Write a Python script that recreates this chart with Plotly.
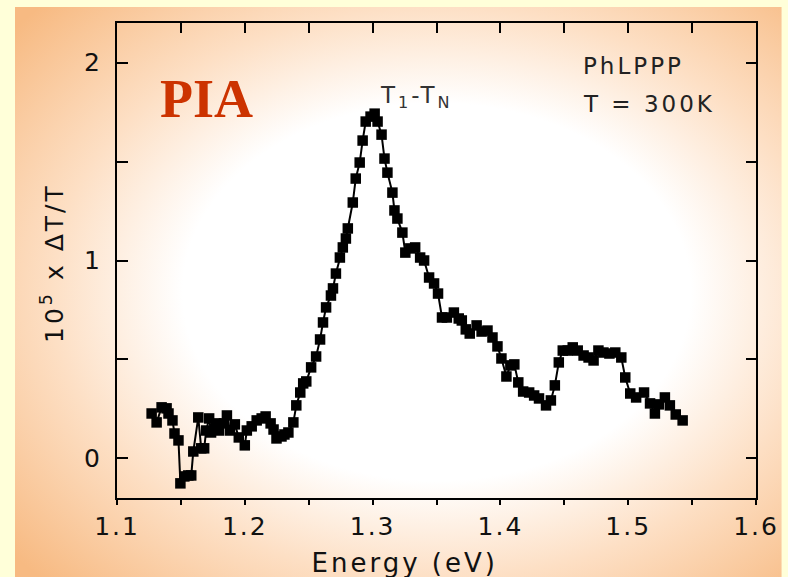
import base64
import plotly.graph_objects as go

# ---------------- data ----------------
energy_ev = [
    1.1271, 1.1310, 1.1349, 1.1388, 1.1403, 1.1434, 1.1450, 1.1481, 1.1496, 1.1527,
    1.1558, 1.1581, 1.1597, 1.1636, 1.1659, 1.1682, 1.1698, 1.1721, 1.1736, 1.1775,
    1.1798, 1.1837, 1.1860, 1.1884, 1.1922, 1.1953, 1.2000, 1.2016, 1.2054, 1.2093,
    1.2132, 1.2163, 1.2202, 1.2225, 1.2248, 1.2287, 1.2310, 1.2341, 1.2380, 1.2403,
    1.2434, 1.2457, 1.2481, 1.2519, 1.2558, 1.2589, 1.2612, 1.2636, 1.2674, 1.2690,
    1.2713, 1.2744, 1.2767, 1.2791, 1.2806, 1.2845, 1.2868, 1.2899, 1.2922, 1.2946,
    1.2984, 1.3016, 1.3039, 1.3070, 1.3093, 1.3116, 1.3155, 1.3171, 1.3194, 1.3233,
    1.3256, 1.3295, 1.3333, 1.3372, 1.3403, 1.3442, 1.3481, 1.3512, 1.3543, 1.3581,
    1.3636, 1.3674, 1.3698, 1.3729, 1.3760, 1.3814, 1.3853, 1.3899, 1.3938, 1.3977,
    1.4008, 1.4047, 1.4078, 1.4109, 1.4140, 1.4178, 1.4225, 1.4264, 1.4302, 1.4357,
    1.4395, 1.4426, 1.4457, 1.4488, 1.4527, 1.4566, 1.4605, 1.4651, 1.4690, 1.4729,
    1.4767, 1.4806, 1.4853, 1.4899, 1.4946, 1.4977, 1.5016, 1.5062, 1.5124, 1.5171,
    1.5209, 1.5240, 1.5287, 1.5326, 1.5372, 1.5426,
]
delta_t_over_t = [
    0.227, 0.182, 0.258, 0.253, 0.227, 0.192, 0.126, 0.091, -0.126, -0.091,
    -0.086, -0.086, 0.035, 0.207, 0.051, 0.051, 0.141, 0.202, 0.131, 0.177,
    0.141, 0.177, 0.217, 0.141, 0.172, 0.106, 0.066, 0.141, 0.162, 0.192,
    0.202, 0.212, 0.177, 0.146, 0.101, 0.111, 0.121, 0.131, 0.182, 0.268,
    0.333, 0.379, 0.389, 0.460, 0.515, 0.601, 0.687, 0.763, 0.823, 0.859,
    0.934, 1.015, 1.066, 1.111, 1.162, 1.293, 1.414, 1.495, 1.606, 1.702,
    1.727, 1.742, 1.702, 1.636, 1.515, 1.444, 1.343, 1.253, 1.212, 1.141,
    1.040, 1.061, 1.066, 1.015, 1.000, 0.914, 0.884, 0.833, 0.712, 0.712,
    0.737, 0.707, 0.697, 0.652, 0.631, 0.672, 0.641, 0.646, 0.611, 0.566,
    0.505, 0.414, 0.470, 0.475, 0.384, 0.338, 0.333, 0.318, 0.303, 0.268,
    0.293, 0.369, 0.485, 0.545, 0.545, 0.561, 0.545, 0.520, 0.510, 0.495,
    0.545, 0.535, 0.530, 0.535, 0.510, 0.409, 0.328, 0.308, 0.333, 0.278,
    0.227, 0.273, 0.308, 0.268, 0.222, 0.192,
]

x_tick_vals = [1.1, 1.2, 1.3, 1.4, 1.5, 1.6]
x_tick_text = ["1.1", "1.2", "1.3", "1.4", "1.5", "1.6"]
y_tick_vals = [0, 1, 2]
y_tick_text = ["0", "1", "2"]
x_minor_step = 0.05
y_minor_step = 0.5

x_range = [1.1, 1.6]
y_range = [-0.2, 2.2]

# ---------------- styling ----------------
FONT = "DejaVu Sans"
INK = "#111111"

# radial background (white centre fading to peach/orange corners)
svg = (
    '<svg xmlns="http://www.w3.org/2000/svg" width="774" height="570" '
    'viewBox="0 0 774 570" preserveAspectRatio="none">'
    '<defs><radialGradient id="g" cx="0.55" cy="0.5" r="0.72" fx="0.55" fy="0.5">'
    '<stop offset="0" stop-color="#ffffff"/>'
    '<stop offset="0.46" stop-color="#ffffff"/>'
    '<stop offset="0.70" stop-color="#fddfc4"/>'
    '<stop offset="1" stop-color="#f7ba82"/>'
    '</radialGradient></defs>'
    '<rect x="0" y="0" width="774" height="570" fill="url(#g)"/></svg>'
)
bg_src = "data:image/svg+xml;base64," + base64.b64encode(svg.encode()).decode()

fig = go.Figure()
fig.add_trace(go.Scatter(
    x=energy_ev, y=delta_t_over_t, mode="lines+markers",
    line=dict(color="black", width=2),
    marker=dict(symbol="square", size=10.5, color="black"),
    showlegend=False, hoverinfo="x+y",
))
# invisible companion trace so the mirrored (top/right) axes are drawn
fig.add_trace(go.Scatter(
    x=energy_ev, y=delta_t_over_t, mode="markers", xaxis="x2", yaxis="y2",
    marker=dict(opacity=0), showlegend=False, hoverinfo="skip",
))

axis_common = dict(showline=True, linecolor="black", linewidth=2, showgrid=False,
                   zeroline=False, tickcolor="black", tickwidth=2)


def minor(direction, length, step, start):
    return dict(ticks=direction, ticklen=length, tickwidth=2, tickcolor="black",
                dtick=step, tick0=start, showgrid=False)


fig.update_layout(
    width=788, height=577,
    margin=dict(l=117, r=26, t=23, b=79),
    paper_bgcolor="#ffffd9",
    plot_bgcolor="rgba(0,0,0,0)",
    font=dict(family=FONT, color=INK),
    xaxis=dict(range=x_range, tickmode="array", tickvals=x_tick_vals, ticktext=x_tick_text,
               ticks="outside", ticklen=5, tickfont=dict(family=FONT, size=25, color=INK),
               ticklabelstandoff=0, minor=minor("outside", 5, x_minor_step, x_range[0]),
               **axis_common),
    xaxis2=dict(range=x_range, overlaying="x", side="top", tickmode="array",
                tickvals=x_tick_vals, ticks="inside", ticklen=10, showticklabels=False,
                minor=minor("inside", 10, x_minor_step, x_range[0]), **axis_common),
    yaxis=dict(range=y_range, tickmode="array", tickvals=y_tick_vals, ticktext=y_tick_text,
               ticks="inside", ticklen=11, tickfont=dict(family=FONT, size=25, color=INK),
               ticklabelstandoff=8, minor=minor("inside", 11, y_minor_step, 0),
               **axis_common),
    yaxis2=dict(range=y_range, overlaying="y", side="right", tickmode="array",
                tickvals=y_tick_vals, ticks="inside", ticklen=10, showticklabels=False,
                minor=minor("inside", 10, y_minor_step, 0), **axis_common),
    images=[dict(source=bg_src, xref="paper", yref="paper",
                 x=-0.1597, y=1.0337, sizex=1.2, sizey=1.2,
                 xanchor="left", yanchor="top", sizing="stretch", layer="below")],
    annotations=[
        dict(text="Energy (eV)", xref="paper", yref="paper", x=0.4496, y=-0.137,
             xanchor="center", yanchor="middle", showarrow=False,
             font=dict(family=FONT, size=26, color=INK)),
        dict(text="10<sup>5</sup> x ΔT/T", xref="paper", yref="paper", x=-0.1, y=0.495,
             xanchor="center", yanchor="middle", textangle=-90, showarrow=False,
             font=dict(family=FONT, size=25, color=INK)),
        dict(text="<b>PIA</b>", xref="paper", yref="paper", x=0.140, y=0.841,
             xanchor="center", yanchor="middle", showarrow=False,
             font=dict(family="Liberation Serif", size=54, color="#cc3300")),
        dict(text="T<sub>1</sub>-T<sub>N</sub>", xref="paper", yref="paper", x=0.408, y=0.845,
             xanchor="left", yanchor="middle", align="left", showarrow=False,
             font=dict(family=FONT, size=23, color="#333333")),
        dict(text="PhLPPP", xref="paper", yref="paper", x=0.7256, y=0.9105,
             xanchor="left", yanchor="middle", align="left", showarrow=False,
             font=dict(family=FONT, size=23, color="#222222")),
        dict(text="T = 300K", xref="paper", yref="paper", x=0.7256, y=0.8295,
             xanchor="left", yanchor="middle", align="left", showarrow=False,
             font=dict(family=FONT, size=23, color="#222222")),
    ],
)

# The reference typesets its sans-serif text with wide tracking; apply it after drawing.
post_script = """
var gd = document.getElementById('{plot_id}');
function track() {
  gd.querySelectorAll('.xtick text, .ytick text').forEach(function(t){ t.style.letterSpacing = '2px'; });
  gd.querySelectorAll('.annotation-text').forEach(function(t){
    if (t.textContent.indexOf('PIA') === -1) { t.style.letterSpacing = '3px'; }
  });
}
track();
gd.on('plotly_afterplot', track);
"""

fig.write_html("out.html", post_script=post_script)
